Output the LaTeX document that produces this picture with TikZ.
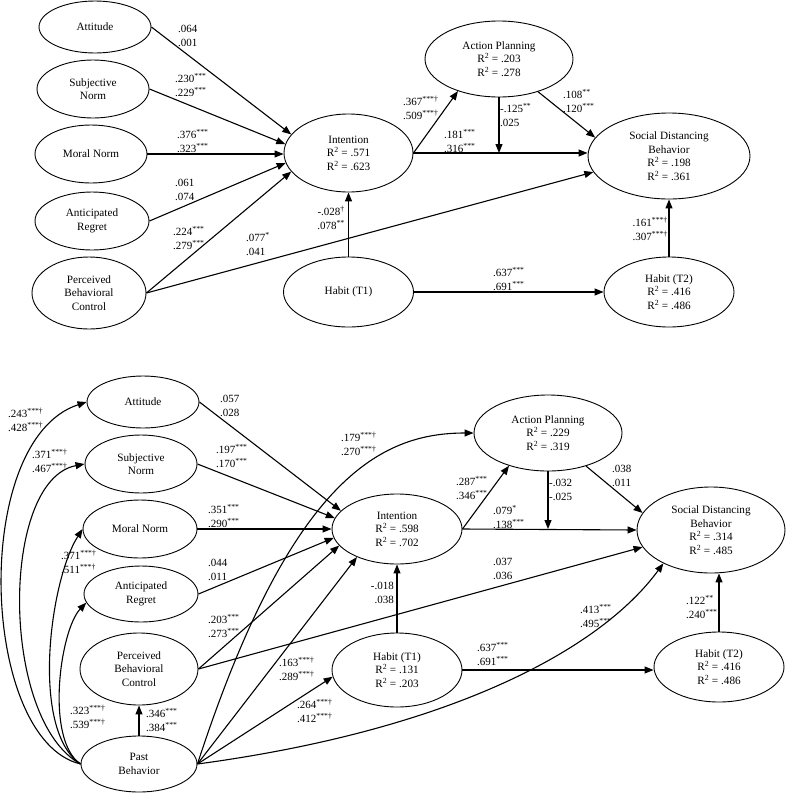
\documentclass[tikz,border=0pt]{standalone}
\usepackage{fontspec}
\setmainfont{Liberation Serif}
\usetikzlibrary{shapes.geometric,arrows.meta}
\newcommand{\sgn}[1]{\textsuperscript{#1}}
\newcommand{\Rsq}{R\textsuperscript{2}}
\tikzset{
  lv/.style={draw, ellipse, inner sep=0pt, align=center, line width=0.9pt,
             font=\fontsize{11.2}{13.5}\selectfont},
  pth/.style={line width=1.1pt, -{Triangle[length=9pt,width=7pt]}},
  lbl/.style={inner sep=0pt, font=\fontsize{11}{13.5}\selectfont, anchor=west, align=left},
  lblr/.style={lbl, anchor=east, align=right},
}
\begin{document}
\begin{tikzpicture}[x=1pt,y=-1pt]
\useasboundingbox (0,0) rectangle (798,793);

%%%%%%%%%%%%%%%% TOP PANEL %%%%%%%%%%%%%%%%
\node[lv, minimum width=112pt, minimum height=52pt] (att) at (95,27) {Attitude};
\node[lv, minimum width=112pt, minimum height=58pt] (sn) at (93,89) {Subjective\\Norm};
\node[lv, minimum width=112pt, minimum height=58pt] (mn) at (91,154) {Moral Norm};
\node[lv, minimum width=114pt, minimum height=58pt] (ar) at (92,221) {Anticipated\\Regret};
\node[lv, minimum width=114pt, minimum height=72pt] (pbc) at (89,293) {Perceived\\Behavioral\\Control};
\node[lv, minimum width=129pt, minimum height=78pt] (int) at (348.5,153) {Intention\\\Rsq{} = .571\\\Rsq{} = .623};
\node[lv, minimum width=148pt, minimum height=76pt] (ap) at (499,59) {Action Planning\\\Rsq{} = .203\\\Rsq{} = .278};
\node[lv, minimum width=162pt, minimum height=86pt] (sdb) at (669,156) {Social Distancing\\Behavior\\\Rsq{} = .198\\\Rsq{} = .361};
\node[lv, minimum width=130pt, minimum height=70pt] (h1) at (348.5,292) {Habit (T1)};
\node[lv, minimum width=130pt, minimum height=70pt] (h2) at (669,292) {Habit (T2)\\\Rsq{} = .416\\\Rsq{} = .486};

\coordinate (m1) at (ap.south |- int.east);
\draw[pth] (att.east) -- (int.162.9);
\draw[pth] (sn.east) -- (int.172.2);
\draw[pth] (mn.east) -- (mn.east -| int.west);
\draw[pth] (ar.east) -- (int.-171.3);
\draw[pth] (pbc.east) -- (int.-162);
\draw[pth] (pbc.east) -- (sdb.-168.5);
\draw[pth] (h1.north) -- (int.south);
\draw[pth] (h1.east) -- (h2.west);
\draw[pth] (h2.north) -- (sdb.south);
\draw[pth] (int.east) -- (ap.-142);
\draw[pth] (int.east) -- (int.east -| sdb.west);
\draw[pth] (ap.-40.7) -- (sdb.166.5);
\draw[pth] (ap.south) -- (m1);

\node[lbl] (l1) at (178,36) {.064\\.001};
\node[lbl] (l2) at (175,85) {.230\sgn{***}\\.229\sgn{***}};
\node[lbl] (l3) at (177,141) {.376\sgn{***}\\.323\sgn{***}};
\node[lbl] (l4) at (175,190) {.061\\.074};
\node[lbl] (l5) at (173,238) {.224\sgn{***}\\.279\sgn{***}};
\node[lbl] (l6) at (246,244) {.077\sgn{*}\\.041};
\node[lblr] (l7) at (345,218) {-.028\sgn{\textdagger}\\.078\sgn{**}};
\node[lbl] (l8) at (403,108) {.367\sgn{***\textdagger}\\.509\sgn{***\textdagger}};
\node[lbl] (l9) at (500,115) {-.125\sgn{**}\\.025};
\node[lbl] (l10) at (444,141) {.181\sgn{***}\\.316\sgn{***}};
\node[lbl] (l11) at (563,101) {.108\sgn{**}\\.120\sgn{***}};
\node[lblr] (l12) at (668,229) {.161\sgn{***\textdagger}\\.307\sgn{***\textdagger}};
\node[lbl] (l13) at (493,279) {.637\sgn{***}\\.691\sgn{***}};

%%%%%%%%%%%%%%%% BOTTOM PANEL %%%%%%%%%%%%%%%%
\node[lv, minimum width=112pt, minimum height=52pt] (att2) at (143,402) {Attitude};
\node[lv, minimum width=112pt, minimum height=58pt] (sn2) at (141,464) {Subjective\\Norm};
\node[lv, minimum width=114pt, minimum height=58pt] (mn2) at (140,529) {Moral Norm};
\node[lv, minimum width=114pt, minimum height=56pt] (ar2) at (141,594) {Anticipated\\Regret};
\node[lv, minimum width=118pt, minimum height=72pt] (pbc2) at (139,669) {Perceived\\Behavioral\\Control};
\node[lv, minimum width=116pt, minimum height=56pt] (pb2) at (139,764) {Past\\Behavior};
\node[lv, minimum width=130pt, minimum height=70pt] (int2) at (397,529) {Intention\\\Rsq{} = .598\\\Rsq{} = .702};
\node[lv, minimum width=148pt, minimum height=76pt] (ap2) at (548,433) {Action Planning\\\Rsq{} = .229\\\Rsq{} = .319};
\node[lv, minimum width=148pt, minimum height=86pt] (sdb2) at (711,530) {Social Distancing\\Behavior\\\Rsq{} = .314\\\Rsq{} = .485};
\node[lv, minimum width=130pt, minimum height=74pt] (h12) at (397,670) {Habit (T1)\\\Rsq{} = .131\\\Rsq{} = .203};
\node[lv, minimum width=130pt, minimum height=70pt] (h22) at (719,667) {Habit (T2)\\\Rsq{} = .416\\\Rsq{} = .486};

\coordinate (m2) at (ap2.south |- int2.east);
\draw[pth] (att2.east) -- (int2.162.4);
\draw[pth] (sn2.east) -- (int2.170.4);
\draw[pth] (mn2.east) -- (int2.west);
\draw[pth] (ar2.east) -- (int2.-172.1);
\draw[pth] (pbc2.east) -- (int2.-164.2);
\draw[pth] (pbc2.east) -- (sdb2.-166.2);
\draw[pth] (pb2.east) -- (int2.-145.4);
\draw[pth] (pb2.east) -- (h12.-174);
\draw[pth] (pb2.east) .. controls (290,480) and (380,433) .. (ap2.west);
\draw[pth] (pb2.east) .. controls (450,730) and (600,650) .. (sdb2.-145.5);
\draw[pth] (pb2.north) -- (pbc2.south);
\draw[pth] (pb2.west) .. controls (-20,740) and (-30,440) .. (att2.west);
\draw[pth] (pb2.west) .. controls (0,720) and (0,480) .. (sn2.west);
\draw[pth] (pb2.west) .. controls (30,730) and (50,580) .. (mn2.west);
\draw[pth] (pb2.west) .. controls (45,740) and (60,630) .. (ar2.-171);
\draw[pth] (h12.north) -- (int2.south);
\draw[pth] (h12.east) -- (h12.east -| h22.west);
\draw[pth] (h22.north) -- (h22.north |- sdb2.south);
\draw[pth] (int2.east) -- (ap2.-140.3);
\draw[pth] (int2.east) -- (sdb2.west);
\draw[pth] (ap2.-41.7) -- (sdb2.166.2);
\draw[pth] (ap2.south) -- (m2);

\node[lbl] (b1) at (8,420) {.243\sgn{***\textdagger}\\.428\sgn{***\textdagger}};
\node[lbl] (b2) at (32,461) {.371\sgn{***\textdagger}\\.467\sgn{***\textdagger}};
\node[lbl] (b3) at (61,562) {.371\sgn{***\textdagger}\\.511\sgn{***\textdagger}};
\node[lbl] (b4) at (70,717) {.323\sgn{***\textdagger}\\.539\sgn{***\textdagger}};
\node[lbl] (b5) at (146,720) {.346\sgn{***}\\.384\sgn{***}};
\node[lbl] (b6) at (220,406) {.057\\.028};
\node[lbl] (b7) at (216,456) {.197\sgn{***}\\.170\sgn{***}};
\node[lbl] (b8) at (208,516) {.351\sgn{***}\\.290\sgn{***}};
\node[lbl] (b9) at (208,570) {.044\\.011};
\node[lbl] (b10) at (208,626) {.203\sgn{***}\\.273\sgn{***}};
\node[lbl] (b11) at (341,444) {.179\sgn{***\textdagger}\\.270\sgn{***\textdagger}};
\node[lbl] (b12) at (456,488) {.287\sgn{***}\\.346\sgn{***}};
\node[lbl] (b13) at (549,490) {-.032\\-.025};
\node[lbl] (b14) at (612,476) {.038\\.011};
\node[lbl] (b15) at (493,517) {.079\sgn{*}\\.138\sgn{***}};
\node[lbl] (b16) at (493,569) {.037\\.036};
\node[lbl] (b17) at (686,607) {.122\sgn{**}\\.240\sgn{***}};
\node[lbl] (b18) at (477,654) {.637\sgn{***}\\.691\sgn{***}};
\node[lblr] (b19) at (394,593) {-.018\\.038};
\node[lbl] (b20) at (279,669) {.163\sgn{***\textdagger}\\.289\sgn{***\textdagger}};
\node[lbl] (b21) at (297,711) {.264\sgn{***\textdagger}\\.412\sgn{***\textdagger}};
\node[lbl] (b22) at (580,616) {.413\sgn{***}\\.495\sgn{***}};
\end{tikzpicture}
\end{document}
